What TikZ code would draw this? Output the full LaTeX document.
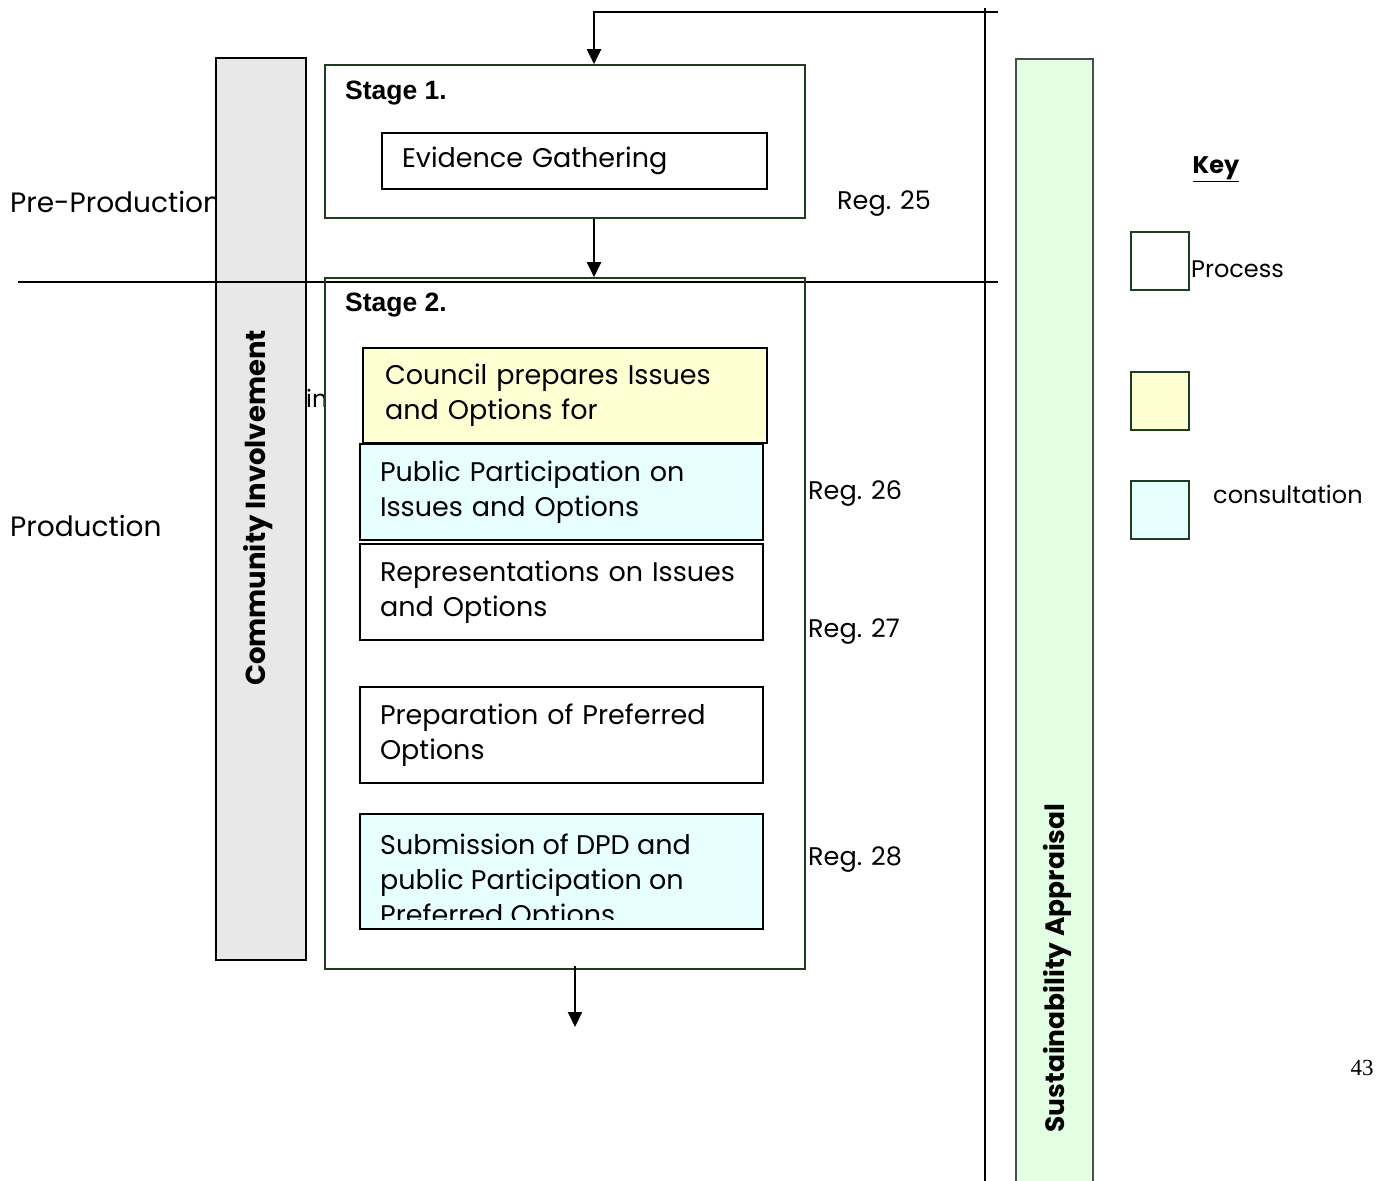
\documentclass[tikz,border=0pt]{standalone}
\usepackage{fontspec}
\setmainfont{Poppins}
\newfontfamily\arialfont{Liberation Sans}
\newfontfamily\timesfont{Liberation Serif}
\usetikzlibrary{arrows.meta,positioning}

\definecolor{stagegreen}{HTML}{1E3F1E}
\definecolor{planyellow}{HTML}{FFFFD4}
\definecolor{consultcyan}{HTML}{E8FFFF}
\definecolor{sagreen}{HTML}{E3FFE3}
\definecolor{cigrey}{HTML}{E8E8E8}

\tikzset{
  arr/.style={line width=2pt,-{Triangle[width=14pt,length=15pt]}},
  stagebox/.style={draw=stagegreen,line width=1.6pt,minimum width=480pt},
  procbox/.style={draw,line width=2pt,align=left,inner xsep=20pt,inner ysep=0pt,
    text width=363pt,minimum height=96pt,font=\fontsize{27}{35}\selectfont},
  keybox/.style={draw=stagegreen,line width=2pt,minimum size=58pt,inner sep=0pt},
  sidetext/.style={font=\fontsize{28}{32}\selectfont,anchor=west,inner sep=0pt,yshift=-2pt},
  regtext/.style={font=\fontsize{25.5}{28}\selectfont,anchor=west,inner sep=0pt,yshift=-3pt},
  stagelabel/.style={anchor=west,inner sep=0pt,font=\arialfont\fontsize{26.5}{30}\selectfont\bfseries},
}

\begin{document}
\begin{tikzpicture}[x=1pt,y=-1pt]
\useasboundingbox (0,0) rectangle (1380,1180);

% phase labels, partly hidden by the bar
\node[sidetext] (preprod) at (10,200) {Pre-Production};
\node[sidetext] (prod) at (10,524) {Production};

% side bars
\node[draw,line width=2pt,fill=cigrey,minimum width=90pt,minimum height=902pt] (cibar) at (261,509) {};
\node[rotate=90,font=\fontsize{27.5}{30}\selectfont\bfseries] (citext) at (258,508) {Community Involvement};
\node[draw=black!70,line width=2pt,fill=sagreen,minimum width=77pt,minimum height=1130pt,anchor=north] (sabar) at (1054.5,58) {};
\node[rotate=90,font=\fontsize{26.5}{30}\selectfont\bfseries] (satext) at (1057,968) {Sustainability Appraisal};

% divider lines
\coordinate (topend) at (985,8);
\coordinate (botend) at (985,1185);
\draw[line width=2pt] (topend) -- (botend);
\coordinate (prodL) at (18,282);
\coordinate (prodR) at (998,282);
\draw[line width=2pt] (prodL) -- (prodR);

\node[regtext,font=\fontsize{24}{28}\selectfont] (intext) at (306,395) {in};

% stage 1
\node[stagebox,fill=white,minimum height=153pt] (stage1) at (565,141.5) {};
\node[stagelabel] (s1label) at (345,93) {Stage 1.};
\node[procbox,text width=345pt,minimum height=56pt] (evid) at (574.5,161) {Evidence Gathering};
\node[regtext] (reg25) at (837,201) {Reg. 25};

% stage 2
\node[stagebox,minimum height=691pt] (stage2) at (565,623.5) {};
\node[stagelabel] (s2label) at (345,305) {Stage 2.};
\node[procbox,fill=planyellow,text width=360pt,inner xsep=22pt,minimum height=95pt] (council) at (565,395.5) {Council prepares Issues\\and Options for};
\node[procbox,fill=consultcyan] (pubpart) at (561.5,492) {Public Participation on\\Issues and Options};
\node[procbox] (reps) at (561.5,592) {Representations on Issues\\and Options};
\node[procbox] (prefopt) at (561.5,735) {Preparation of Preferred\\Options};
\node[procbox,fill=consultcyan,minimum height=115pt] (submit) at (561.5,871.5) {};
\begin{scope}
  \clip (submit.north west) rectangle ([yshift=11pt]submit.south east);
  \node[anchor=west,align=left,inner sep=0pt,font=\fontsize{27}{35}\selectfont] (submittext) at (380,883) {Submission of DPD and\\public Participation on\\Preferred Options};
\end{scope}

\node[regtext] (reg26) at (808,491) {Reg. 26};
\node[regtext] (reg27) at (808,629) {Reg. 27};
\node[regtext] (reg28) at (808,857) {Reg. 28};

% connectors
\draw[line width=2pt] (topend |- 0,12) -- ++(13,0);
\draw[arr] (998,12) -| ([xshift=29pt]stage1.north);
\draw[arr] ([xshift=29pt]stage1.south) -- ([xshift=29pt]stage2.north);
\coordinate (nextstage) at (575,1027);
\draw[arr] ([xshift=10pt,yshift=4pt]stage2.south) -- (nextstage);

% key
\node[font=\fontsize{24}{28}\selectfont\bfseries] (keytitle) at (1216,169) {\underline{Key}};
\node[keybox,fill=white] (keyproc) at (1160,261) {};
\node[keybox,fill=planyellow] (keyplan) at (1160,401) {};
\node[keybox,fill=consultcyan] (keycons) at (1160,510) {};
\node[regtext,font=\fontsize{24}{28}\selectfont] (keyproctext) at (1191,266) {Process};
\node[regtext,font=\fontsize{24}{28}\selectfont] (keyconstext) at (1213,491) {consultation};

\node[font=\timesfont\fontsize{23}{26}\selectfont] (pagenum) at (1362,1068) {43};
\end{tikzpicture}
\end{document}
